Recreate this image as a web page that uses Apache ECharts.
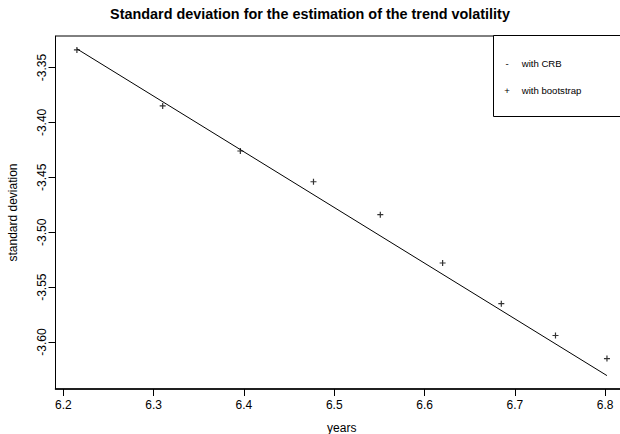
<!DOCTYPE html>
<html>
<head>
<meta charset="utf-8">
<script src="https://cdn.jsdelivr.net/npm/echarts@6/dist/echarts.min.js"></script>
<style>
html,body{margin:0;padding:0;background:#fff;}
#c{width:620px;height:434px;}
</style>
</head>
<body>
<div id="c"></div>
<script>
// ---- data ----
const years = [6.215, 6.310, 6.396, 6.477, 6.551, 6.620, 6.685, 6.745, 6.802];
const bootstrapSD = [-3.334, -3.385, -3.426, -3.454, -3.484, -3.528, -3.565, -3.594, -3.615];
const crbYears = [6.215, 6.802];
const crbSD = [-3.333, -3.6305];
const xTicks = [6.2, 6.3, 6.4, 6.5, 6.6, 6.7, 6.8];
const yTicks = [-3.35, -3.40, -3.45, -3.50, -3.55, -3.60];
const legendSymbols = ['-', '+'];
const legendNames = ['with CRB', 'with bootstrap'];
const titleText = 'Standard deviation for the estimation of the trend volatility';

const FONT = 'Liberation Sans, Arial, Helvetica, sans-serif';

const chart = echarts.init(document.getElementById('c'), null, {renderer: 'svg'});

const legendEls = [{
  type: 'rect',
  shape: {x: 493.5, y: 35.5, width: 200, height: 81},
  style: {fill: '#fff', stroke: '#000', lineWidth: 1},
  z: 10
}];
legendNames.forEach((n, i) => {
  const y = 63.7 + i * 26.3;
  legendEls.push({type: 'text', x: 507, y: y, z: 11,
    style: {text: legendSymbols[i], fill: '#000', font: '9.6px ' + FONT, align: 'center', verticalAlign: 'middle'}});
  legendEls.push({type: 'text', x: 521.7, y: y, z: 11,
    style: {text: n, fill: '#000', font: '9.6px ' + FONT, align: 'left', verticalAlign: 'middle'}});
});

chart.setOption({
  animation: false,
  backgroundColor: '#fff',
  title: {
    text: titleText,
    left: 'center',
    top: 0,
    padding: [7, 0, 5, 60],
    textStyle: {fontFamily: FONT, fontSize: 14.4, fontWeight: 'bold', color: '#000'}
  },
  grid: {
    left: 55.5, top: 36, width: 572.5, height: 353,
    show: true, borderColor: '#000', borderWidth: 1, backgroundColor: 'transparent',
    containLabel: false,
    outerBoundsMode: 'none'
  },
  xAxis: {
    type: 'value',
    min: 6.1913, max: 6.8253,
    name: 'years', nameLocation: 'middle', nameGap: 33,
    nameTextStyle: {fontFamily: FONT, fontSize: 12, color: '#000'},
    axisLine: {show: true, onZero: false, lineStyle: {color: '#000', width: 1.5}},
    axisTick: {show: true, length: 7, lineStyle: {color: '#000'}, customValues: xTicks},
    axisLabel: {customValues: xTicks, margin: 10, fontFamily: FONT, fontSize: 12, color: '#000',
      formatter: v => v.toFixed(1)},
    splitLine: {show: false}
  },
  yAxis: {
    type: 'value',
    min: -3.6427, max: -3.3213,
    name: 'standard deviation', nameLocation: 'middle', nameGap: 37,
    nameTextStyle: {fontFamily: FONT, fontSize: 12, color: '#000'},
    axisLine: {show: true, onZero: false, lineStyle: {color: '#000', width: 1}},
    axisTick: {show: true, length: 7, lineStyle: {color: '#000'}, customValues: yTicks},
    axisLabel: {customValues: yTicks, rotate: 90, margin: 8, fontFamily: FONT, fontSize: 12, color: '#000',
      formatter: v => v.toFixed(2)},
    splitLine: {show: false}
  },
  series: [
    {
      name: legendNames[0],
      type: 'line',
      data: crbYears.map((x, i) => [x, crbSD[i]]),
      symbol: 'none',
      lineStyle: {color: '#000', width: 1}
    },
    {
      name: legendNames[1],
      type: 'scatter',
      data: years.map((x, i) => [x, bootstrapSD[i]]),
      symbol: 'path://M5,0L5,10M0,5L10,5',
      symbolSize: 6,
      itemStyle: {color: 'none', borderColor: '#000', borderWidth: 1.2}
    }
  ],
  graphic: legendEls
});
</script>
</body>
</html>
